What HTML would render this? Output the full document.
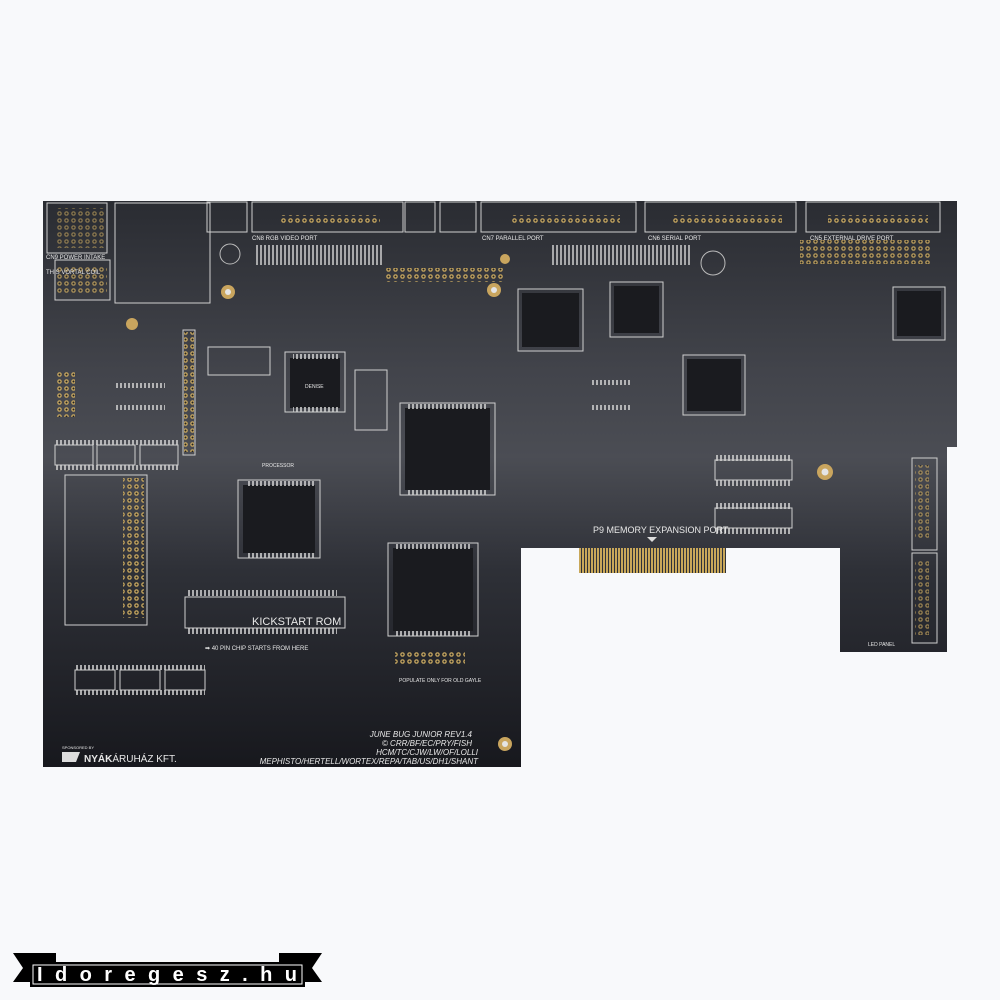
<!DOCTYPE html>
<html><head><meta charset="utf-8"><style>
html,body{margin:0;padding:0;background:#f8f9fb;}
svg{display:block}
text{font-family:"Liberation Sans",sans-serif;fill:#e8e8e8}
</style></head><body>
<svg width="1000" height="1000" viewBox="0 0 1000 1000" xmlns="http://www.w3.org/2000/svg">
<defs>
<linearGradient id="bg" x1="0" y1="201" x2="0" y2="770" gradientUnits="userSpaceOnUse">
<stop offset="0" stop-color="#2a2c32"/>
<stop offset="0.3" stop-color="#42444b"/>
<stop offset="0.45" stop-color="#4b4d54"/>
<stop offset="0.65" stop-color="#2e3037"/>
<stop offset="1" stop-color="#17181d"/>
</linearGradient>
<pattern id="pins" width="4" height="6" patternUnits="userSpaceOnUse"><rect width="2" height="6" fill="#cfcfcf"/></pattern>
<pattern id="gold" width="3" height="25" patternUnits="userSpaceOnUse"><rect width="2" height="25" fill="#c9a85a"/></pattern>
<pattern id="holes" width="7" height="7" patternUnits="userSpaceOnUse"><circle cx="3.5" cy="3.5" r="2.3" fill="#c6a660"/><circle cx="3.5" cy="3.5" r="1" fill="#222"/></pattern>
</defs>
<path d="M43,201 H957 V447 H947 V652 H840 V548 H726 V573 H579 V548 H521 V767 H43 Z" fill="url(#bg)"/>
<rect x="579" y="548" width="147" height="25" fill="url(#gold)"/>
<g fill="none" stroke="#cfcfcf" stroke-width="1">
<rect x="47" y="203" width="60" height="50"/>
<rect x="115" y="203" width="95" height="100"/>
<rect x="207" y="202" width="40" height="30"/>
<rect x="252" y="202" width="151" height="30"/>
<rect x="405" y="202" width="30" height="30"/>
<rect x="440" y="202" width="36" height="30"/>
<rect x="481" y="202" width="155" height="30"/>
<rect x="645" y="202" width="151" height="30"/>
<rect x="806" y="202" width="134" height="30"/>
<rect x="55" y="260" width="55" height="40"/>
<rect x="65" y="475" width="82" height="150"/>
<rect x="185" y="597" width="160" height="31"/>
<rect x="208" y="347" width="62" height="28"/>
<rect x="285" y="352" width="60" height="60"/>
<rect x="400" y="403" width="95" height="92"/>
<rect x="238" y="480" width="82" height="78"/>
<rect x="388" y="543" width="90" height="93"/>
<rect x="518" y="289" width="65" height="62"/>
<rect x="610" y="282" width="53" height="55"/>
<rect x="683" y="355" width="62" height="60"/>
<rect x="893" y="287" width="52" height="53"/>
<rect x="912" y="458" width="25" height="92"/>
<rect x="912" y="553" width="25" height="90"/>
<rect x="715" y="460" width="77" height="20"/>
<rect x="715" y="508" width="77" height="20"/>
<rect x="355" y="370" width="32" height="60"/>
<rect x="183" y="330" width="12" height="125"/>
</g>
<g>
<rect x="280" y="215" width="100" height="10" fill="url(#holes)"/>
<rect x="510" y="215" width="110" height="10" fill="url(#holes)"/>
<rect x="672" y="215" width="110" height="10" fill="url(#holes)"/>
<rect x="828" y="215" width="100" height="10" fill="url(#holes)"/>
<rect x="254" y="245" width="130" height="20" fill="url(#pins)" opacity="0.75"/>
<rect x="550" y="245" width="140" height="20" fill="url(#pins)" opacity="0.75"/>
<rect x="800" y="240" width="130" height="24" fill="url(#holes)" opacity="0.9"/>
<rect x="385" y="268" width="120" height="14" fill="url(#holes)"/>
<rect x="184" y="332" width="10" height="120" fill="url(#holes)"/>
<rect x="123" y="478" width="21" height="140" fill="url(#holes)"/>
<rect x="55" y="208" width="50" height="40" fill="url(#holes)" opacity="0.6"/>
<rect x="57" y="265" width="50" height="30" fill="url(#holes)" opacity="0.8"/>
<rect x="55" y="372" width="20" height="45" fill="url(#holes)"/>
<rect x="915" y="465" width="14" height="75" fill="url(#holes)" opacity="0.7"/>
<rect x="915" y="560" width="14" height="75" fill="url(#holes)" opacity="0.7"/>
<rect x="395" y="650" width="70" height="14" fill="url(#holes)"/>
</g>
<g fill="#1a1b1f">
<rect x="290" y="358" width="50" height="50"/>
<rect x="405" y="408" width="85" height="82"/>
<rect x="243" y="485" width="72" height="68"/>
<rect x="393" y="548" width="80" height="83"/>
<rect x="522" y="293" width="57" height="54"/>
<rect x="614" y="286" width="45" height="47"/>
<rect x="687" y="359" width="54" height="52"/>
<rect x="897" y="291" width="44" height="45"/>
</g>
<g fill="url(#pins)" opacity="0.8">
<rect x="293" y="354" width="45" height="5"/><rect x="293" y="407" width="45" height="5"/>
<rect x="408" y="404" width="80" height="5"/><rect x="408" y="490" width="80" height="5"/>
<rect x="246" y="481" width="68" height="5"/><rect x="246" y="553" width="68" height="5"/>
<rect x="396" y="544" width="76" height="5"/><rect x="396" y="631" width="76" height="5"/>
<rect x="715" y="455" width="77" height="6"/><rect x="715" y="480" width="77" height="6"/>
<rect x="715" y="503" width="77" height="6"/><rect x="715" y="528" width="77" height="6"/>
<rect x="187" y="590" width="150" height="6"/><rect x="187" y="628" width="150" height="6"/>
<rect x="55" y="440" width="125" height="5"/><rect x="55" y="465" width="125" height="5"/>
<rect x="75" y="665" width="130" height="5"/><rect x="75" y="690" width="130" height="5"/>
<rect x="115" y="383" width="50" height="5"/><rect x="115" y="405" width="50" height="5"/>
<rect x="590" y="380" width="40" height="5"/><rect x="590" y="405" width="40" height="5"/>
</g>
<g fill="none" stroke="#cfcfcf" stroke-width="1">
<rect x="55" y="445" width="38" height="20"/><rect x="97" y="445" width="38" height="20"/><rect x="140" y="445" width="38" height="20"/>
<rect x="75" y="670" width="40" height="20"/><rect x="120" y="670" width="40" height="20"/><rect x="165" y="670" width="40" height="20"/>
</g>
<g fill="#c9a55e">
<circle cx="228" cy="292" r="7"/><circle cx="494" cy="290" r="7"/><circle cx="825" cy="472" r="8"/>
<circle cx="505" cy="744" r="7"/><circle cx="505" cy="259" r="5"/><circle cx="230" cy="254" r="10" fill="none" stroke="#bbb"/>
<circle cx="713" cy="263" r="12" fill="none" stroke="#bbb"/><circle cx="132" cy="324" r="6"/>
</g>
<g fill="#e5e5e5"><circle cx="228" cy="292" r="3"/><circle cx="494" cy="290" r="3"/><circle cx="825" cy="472" r="3.5"/><circle cx="505" cy="744" r="3"/></g>
<g font-size="6">
<text x="252" y="240">CN8 RGB VIDEO PORT</text>
<text x="482" y="240">CN7 PARALLEL PORT</text>
<text x="648" y="240">CN6 SERIAL PORT</text>
<text x="810" y="240">CN5 EXTERNAL DRIVE PORT</text>
<text x="46" y="259">CN9 POWER INTAKE</text>
<text x="46" y="274">THIS VORTAL COIL</text>
<text x="262" y="467" font-size="5">PROCESSOR</text>
<text x="305" y="388" font-size="5" fill="#999">DENISE</text>
</g>
<text x="252" y="625" font-size="11">KICKSTART ROM</text>
<text x="205" y="650" font-size="6">➡ 40 PIN CHIP STARTS FROM HERE</text>
<text x="399" y="682" font-size="5">POPULATE ONLY FOR OLD GAYLE</text>
<text x="593" y="533" font-size="9">P9 MEMORY EXPANSION PORT</text>
<path d="M647,537 l5,5 l5,-5z" fill="#ddd"/>
<g font-size="8" font-style="italic" text-anchor="end">
<text x="472" y="737">JUNE BUG JUNIOR REV1.4</text>
<text x="472" y="746">© CRR/BF/EC/PRY/FISH</text>
<text x="478" y="755">HCM/TC/CJW/LW/OF/LOLLI</text>
<text x="478" y="764">MEPHISTO/HERTELL/WORTEX/REPA/TAB/US/DH1/SHANT</text>
</g>
<text x="62" y="749" font-size="4">SPONSORED BY</text>
<text x="84" y="762" font-size="10" font-weight="bold">NYÁK<tspan font-weight="normal">ÁRUHÁZ KFT.</tspan></text>
<path d="M62,752 h18 l-4,10 h-14z" fill="#ddd"/>
<text x="868" y="646" font-size="5">LED PANEL</text>
<path d="M13,953 h43 v29 h-43 l10,-14z" fill="#000"/>
<path d="M322,953 h-43 v29 h43 l-10,-14z" fill="#000"/>
<rect x="30" y="962" width="275" height="25" fill="#000"/>
<rect x="33" y="965" width="269" height="19" fill="none" stroke="#fff" stroke-width="1"/>
<text x="37" y="981" font-family="Liberation Mono,monospace" font-size="20" font-weight="bold" style="fill:#fff" textLength="260" lengthAdjust="spacing">Idoregesz.hu</text>
</svg>
</body></html>
